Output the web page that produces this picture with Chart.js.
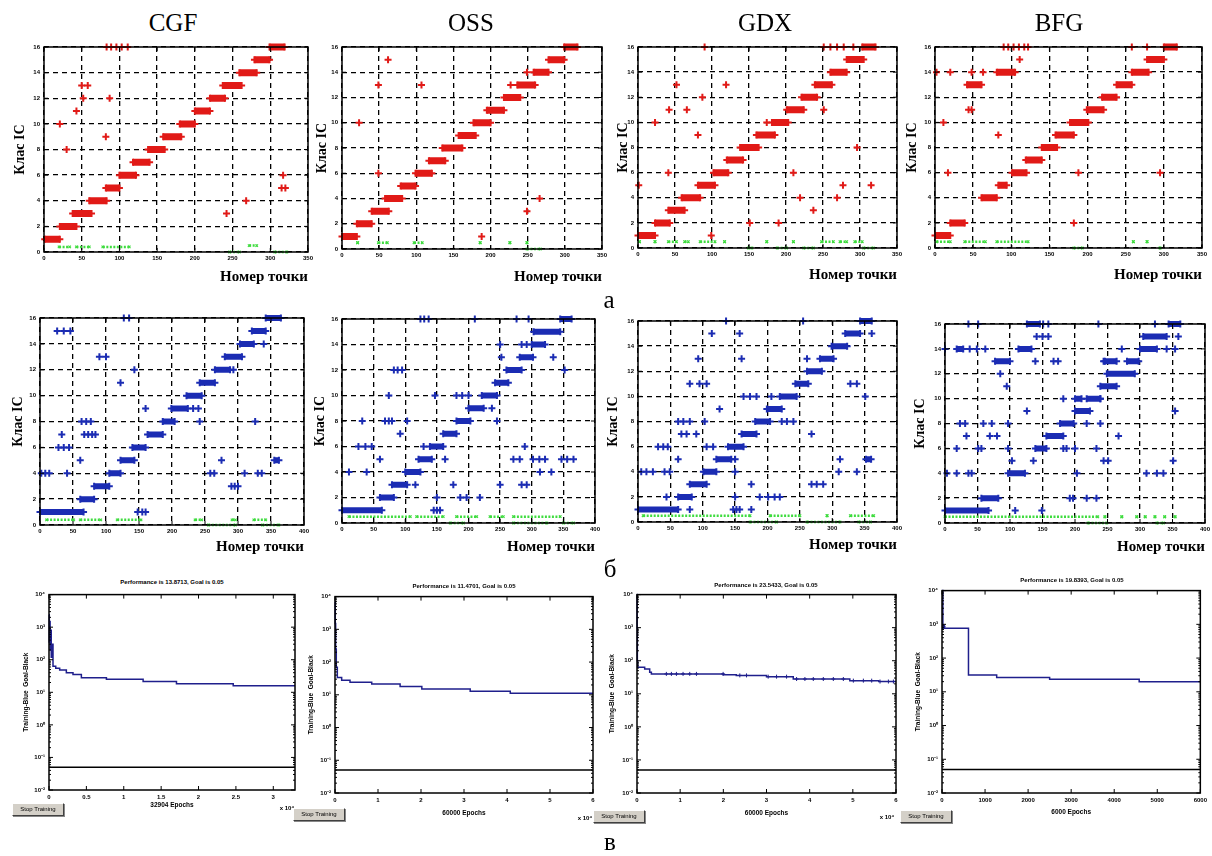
<!DOCTYPE html>
<html>
<head>
<meta charset="utf-8">
<script src="https://cdn.jsdelivr.net/npm/chart.js@4"></script>
<style>
body { margin: 0; background: #fff; width: 1212px; height: 856px; position: relative; overflow: hidden; }
canvas { position: absolute; }
.t { position: absolute; transform: translate(-50%, -50%); white-space: nowrap; color: #000; }
.hd { font: 25px 'Liberation Serif', serif; }
.pt { font: bold 6px 'Liberation Sans', sans-serif; }
.btn { position: absolute; width: 50px; height: 11px; background: #d4d0c8; border: 1px solid; border-color: #fff #404040 #404040 #fff;
       font: 6px 'Liberation Sans', sans-serif; line-height: 11px; text-align: center; color: #000; box-shadow: 1px 1px 0 #888; }
</style>
</head>
<body>
<script>
// ---- а) червоні: [клас, від, до], викиди [точка, клас], зелені [від, до, y]
const classTicks = [0, 2, 4, 6, 8, 10, 12, 14, 16];
const pointTicksA = [0, 50, 100, 150, 200, 250, 300, 350];
const pointTicksB = [0, 50, 100, 150, 200, 250, 300, 350, 400];

const aCgfRuns = [[1,1,21],[2,21,43],[3,38,63],[4,60,83],[5,82,100],[6,100,122],[7,118,140],[8,138,160],[9,158,182],[10,180,200],[11,200,220],[12,220,240],[13,237,262],[14,259,282],[15,279,299],[16,299,319]];
const aCgfOut = [[83,16],[89,16],[96,16],[103,16],[111,16],[50,13],[58,13],[52,12],[87,12],[43,11],[21,10],[82,9],[30,8],[317,6],[315,5],[320,5],[268,4],[242,3]];
const aCgfGreen = [[20,34,0.4],[43,60,0.4],[78,113,0.4],[246,259,0],[272,282,0.5],[306,322,0]];

const aOssRuns = [[1,0,20],[2,20,40],[3,40,63],[4,58,81],[5,79,99],[6,99,121],[7,117,139],[8,135,162],[9,157,180],[10,177,200],[11,195,218],[12,218,240],[13,236,260],[14,258,278],[15,278,299],[16,299,317]];
const aOssOut = [[62,15],[49,13],[107,13],[227,13],[249,14],[23,10],[49,6],[249,3],[266,4],[188,1]];
const aOssGreen = [[21,21,0.5],[49,61,0.5],[97,108,0.5],[186,186,0.5],[226,226,0.5],[249,249,0.5],[249,267,0]];

const aGdxRuns = [[1,0,23],[2,23,43],[3,41,63],[4,59,84],[5,81,104],[6,102,122],[7,120,142],[8,138,163],[9,160,185],[10,181,203],[11,201,224],[12,221,242],[13,239,262],[14,260,282],[15,282,305],[16,303,321]];
const aGdxOut = [[90,16],[251,16],[260,16],[269,16],[278,16],[291,16],[52,13],[119,13],[87,12],[42,11],[66,11],[251,11],[23,10],[174,10],[81,9],[296,8],[41,6],[210,6],[1,5],[277,5],[315,5],[219,4],[269,4],[237,3],[151,2],[190,2],[99,1]];
const aGdxGreen = [[2,2,0.5],[23,23,0.5],[41,52,0.5],[63,68,0.5],[84,104,0.5],[117,117,0.5],[174,174,0.5],[210,210,0.5],[248,264,0.5],[273,282,0.5],[293,303,0.5],[149,154,0],[188,201,0],[224,237,0],[305,318,0]];

const aBfgRuns = [[1,0,20],[2,20,39],[13,42,61],[4,61,81],[14,81,105],[5,83,94],[6,101,120],[7,119,140],[8,140,160],[9,158,182],[10,177,201],[11,199,221],[12,219,238],[13,238,258],[14,258,280],[15,278,300],[16,300,317]];
const aBfgOut = [[90,16],[96,16],[103,16],[110,16],[117,16],[122,16],[258,16],[278,16],[111,15],[2,14],[20,14],[48,14],[63,14],[44,11],[48,11],[11,10],[83,9],[17,6],[188,6],[295,6],[182,2]];
const aBfgGreen = [[2,20,0.5],[39,66,0.5],[81,122,0.5],[260,260,0.5],[278,278,0.5],[182,193,0],[295,295,0]];

// ---- б) сині
const bCgfRuns = [[1,0,66],[2,61,82],[3,82,105],[4,105,122],[5,122,143],[6,140,160],[7,163,186],[8,186,204],[9,199,224],[10,222,245],[11,242,265],[12,265,288],[13,280,306],[14,303,324],[15,321,342],[16,342,365],[5,355,362]];
const bCgfOut = [[148,1],[155,1],[160,1],[290,3],[295,3],[300,3],[2,4],[8,4],[14,4],[41,4],[258,4],[264,4],[310,4],[330,4],[336,4],[61,5],[275,5],[28,6],[36,6],[44,6],[33,7],[67,7],[73,7],[79,7],[84,7],[63,8],[70,8],[77,8],[242,8],[326,8],[160,9],[232,9],[240,9],[122,11],[143,12],[293,12],[90,13],[100,13],[339,14],[26,15],[36,15],[46,15],[127,16],[135,16]];
const bCgfGreen = [[10,51,0.4],[61,92,0.4],[117,153,0.4],[235,245,0.4],[291,296,0.4],[324,342,0.4],[255,296,0],[337,362,0]];

const bOssRuns = [[1,0,63],[2,60,82],[3,79,103],[4,100,124],[5,121,142],[6,139,160],[7,160,181],[8,181,203],[9,200,224],[10,221,245],[11,242,263],[12,260,284],[13,281,302],[14,300,321],[15,303,345],[16,345,363]];
const bOssOut = [[124,16],[130,16],[137,16],[210,16],[276,16],[295,16],[250,14],[284,14],[292,14],[252,13],[334,13],[82,12],[88,12],[95,12],[352,12],[74,10],[147,10],[181,10],[190,10],[200,10],[237,9],[32,8],[68,8],[74,8],[79,8],[103,8],[245,8],[92,7],[26,6],[37,6],[47,6],[129,6],[289,6],[60,5],[163,5],[271,5],[281,5],[302,5],[312,5],[321,5],[347,5],[356,5],[366,5],[11,4],[39,4],[313,4],[331,4],[116,3],[176,3],[250,3],[284,3],[292,3],[150,2],[187,2],[197,2],[218,2],[145,1],[150,1],[155,1]];
const bOssGreen = [[11,108,0.5],[118,160,0.5],[181,213,0.5],[234,255,0.5],[271,345,0.5],[171,192,0],[271,324,0],[350,366,0]];

const bGdxRuns = [[1,0,62],[2,62,83],[3,80,106],[4,101,121],[5,121,144],[6,139,163],[7,160,183],[8,181,204],[9,199,222],[10,219,245],[11,243,263],[12,261,284],[13,281,302],[14,299,323],[15,320,343],[16,343,361],[5,352,360]];
const bGdxOut = [[136,16],[255,16],[114,15],[157,15],[361,15],[93,13],[160,13],[261,13],[80,11],[95,11],[106,11],[328,11],[338,11],[163,10],[173,10],[183,10],[206,10],[351,10],[126,9],[62,8],[70,8],[80,8],[103,8],[222,8],[230,8],[240,8],[67,7],[75,7],[90,7],[268,7],[31,6],[39,6],[46,6],[106,6],[116,6],[62,5],[150,5],[312,5],[5,4],[13,4],[23,4],[41,4],[49,4],[150,4],[310,4],[338,4],[175,3],[268,3],[276,3],[286,3],[44,2],[150,2],[188,2],[201,2],[211,2],[219,2],[80,1],[147,1],[152,1],[157,1],[175,1]];
const bGdxGreen = [[8,173,0.5],[204,250,0.5],[292,292,0.5],[328,364,0.5],[173,214,0],[261,312,0],[341,359,0]];

const bBfgRuns = [[1,0,67],[2,56,82],[4,97,123],[6,139,156],[7,156,182],[8,177,198],[9,200,223],[10,200,210],[10,218,239],[11,239,264],[12,249,292],[13,77,100],[13,244,264],[13,280,298],[14,18,28],[14,113,133],[14,300,326],[15,305,341],[16,126,146],[16,344,362]];
const bBfgOut = [[36,16],[51,16],[151,16],[159,16],[236,16],[323,16],[141,15],[150,15],[159,15],[359,15],[0,14],[38,14],[49,14],[62,14],[272,14],[341,14],[354,14],[139,13],[167,13],[174,13],[246,13],[85,12],[95,11],[182,10],[239,10],[126,9],[354,9],[23,8],[31,8],[59,8],[72,8],[97,8],[218,8],[239,8],[33,7],[69,7],[80,7],[267,7],[18,6],[51,6],[56,6],[97,6],[182,6],[187,6],[200,6],[233,6],[103,5],[136,5],[244,5],[251,5],[351,5],[3,4],[18,4],[36,4],[41,4],[203,4],[310,4],[326,4],[336,4],[192,2],[197,2],[218,2],[233,2],[108,1],[149,1]];
const bBfgGreen = [[0,235,0.5],[246,246,0.5],[272,272,0.5],[295,295,0.5],[308,308,0.5],[323,323,0.5],[338,338,0.5],[354,354,0.5],[220,249,0],[326,336,0]];

// ---- в) навчання (значення діє до наступної епохи у списку)
const perfPowers = [-2, -1, 0, 1, 2, 3, 4];
const goal = 0.05;
const cgfEpochs = [0, 40, 90, 150, 220, 300, 400, 536, 900, 1430, 2320, 3210, 4330, 7680, 12590, 17050, 24640, 32904];
const cgfPerf = [2400, 350, 1500, 200, 800, 120, 300, 63, 55, 48, 40, 35.5, 28, 25, 21.3, 18.4, 15.8, 15.8];
const ossEpochs = [0, 60, 150, 300, 540, 1550, 3490, 8540, 15140, 20190, 31440, 40760, 60000];
const ossPerf = [7000, 1500, 250, 70, 34, 28, 24, 21.4, 17.8, 15.1, 12.9, 11.2, 11.2];
const gdxEpochs = [0, 30, 80, 150, 1780, 2940, 3330, 20000, 23000, 30000, 36200, 49300, 56000, 60000];
const gdxPerf = [10000, 1000, 100, 63, 56, 45, 40, 38, 36, 33, 28, 25, 23.5, 23.5];
const gdxMarks = [[6800,40],[7970,40],[9130,40],[10670,40],[12220,40],[13770,40],[19950,40],[23820,36],[25370,36],[30390,33],[32330,33],[34650,33],[36970,28],[38900,28],[40840,28],[43160,28],[45480,28],[47800,28],[50120,25],[52440,25],[54370,25],[56300,23.5],[58240,23.5],[59400,23.5]];
const bfgEpochs = [0, 20, 40, 615, 1270, 2500, 4580, 6000];
const bfgPerf = [10000, 890, 760, 31.6, 26.5, 23.4, 20, 20];
const bfgMarks = [[25, 850]];

const cgfXTicks = [0, 5000, 10000, 15000, 20000, 25000, 30000];
const cgfXLabels = ['0', '0.5', '1', '1.5', '2', '2.5', '3'];
const e4XTicks = [0, 10000, 20000, 30000, 40000, 50000, 60000];
const e4XLabels = ['0', '1', '2', '3', '4', '5', '6'];
const bfgXTicks = [0, 1000, 2000, 3000, 4000, 5000, 6000];
const bfgXLabels = ['0', '1000', '2000', '3000', '4000', '5000', '6000'];

// ---- розташування
const RED = '#e11a17', BLUE = '#1b2cb3', GREEN = '#3fdc3f', NAVY = '#1f1f8c';
const tickFont = { family: 'Liberation Sans', size: 6, weight: 'bold' };
const sup = { '-': '⁻', '0': '⁰', '1': '¹', '2': '²', '3': '³', '4': '⁴' };

Chart.register({
  id: 'frame',
  afterDraw(chart, args, opts) {
    const { ctx, chartArea: a, scales: { x, y } } = chart;
    ctx.save();
    ctx.strokeStyle = '#000';
    ctx.lineWidth = 1;
    ctx.beginPath();
    x.ticks.forEach(t => {
      const p = x.getPixelForValue(t.value);
      ctx.moveTo(p, a.bottom); ctx.lineTo(p, a.bottom - 4);
      ctx.moveTo(p, a.top); ctx.lineTo(p, a.top + 4);
    });
    y.ticks.forEach(t => {
      const p = y.getPixelForValue(t.value);
      ctx.moveTo(a.left, p); ctx.lineTo(a.left + 4, p);
      ctx.moveTo(a.right, p); ctx.lineTo(a.right - 4, p);
    });
    if (opts.minor) {
      for (let e = perfPowers[0]; e < perfPowers[perfPowers.length - 1]; e++) {
        for (let m = 2; m < 10; m++) {
          const p = y.getPixelForValue(m * Math.pow(10, e));
          ctx.moveTo(a.left, p); ctx.lineTo(a.left + 2, p);
          ctx.moveTo(a.right, p); ctx.lineTo(a.right - 2, p);
        }
      }
    }
    ctx.stroke();
    ctx.lineWidth = 1.5;
    ctx.strokeRect(a.left, a.top, a.right - a.left, a.bottom - a.top);
    ctx.restore();
  }
});

function place(box, L, T, R, B) {
  const cv = document.createElement('canvas');
  const w = box.r - box.l + L + R, h = box.b - box.t + T + B;
  cv.width = w; cv.height = h;
  cv.style.left = (box.l - L) + 'px';
  cv.style.top = (box.t - T) + 'px';
  cv.style.width = w + 'px';
  cv.style.height = h + 'px';
  document.body.appendChild(cv);
  return cv;
}

function text(cls, str, x, y) {
  const d = document.createElement('div');
  d.className = 't ' + cls;
  d.style.left = x + 'px';
  d.style.top = y + 'px';
  d.textContent = str;
  document.body.appendChild(d);
}

function classPanel(box, yTitleX, xTitleY, xMax, xTicks, runs, out, greens, color, lw) {
  const L = 40, T = 8, R = 10, B = 36, ySize = 14, xSize = 15;
  const cv = place(box, L, T, R, B);
  const runPts = [];
  runs.forEach(([c, a, b]) => runPts.push({ x: a, y: c }, { x: b, y: c }, { x: b, y: null }));
  const greenPts = [];
  greens.forEach(([a, b, y]) => greenPts.push({ x: a, y: y }, { x: b, y: y }, { x: b, y: null }));
  new Chart(cv, {
    type: 'scatter',
    data: {
      datasets: [
        { data: greenPts, showLine: true, borderColor: GREEN, borderWidth: 2.5, borderDash: [2, 1.5],
          pointStyle: 'crossRot', pointRadius: 1.8, pointBorderWidth: 1.2, pointBorderColor: GREEN, clip: false },
        { data: runPts, showLine: true, borderColor: color, borderWidth: lw,
          pointStyle: 'cross', pointRadius: 3.5, pointBorderWidth: 2, pointBorderColor: color, clip: false },
        { data: out.map(([x, y]) => ({ x, y })), pointStyle: 'cross', pointRadius: 3.5, pointBorderWidth: 2,
          pointBorderColor: color, clip: false }
      ]
    },
    options: {
      responsive: false, animation: false, devicePixelRatio: 1,
      layout: { padding: { left: 0, top: T, right: R, bottom: 0 } },
      scales: {
        x: {
          type: 'linear', min: 0, max: xMax,
          afterBuildTicks: s => { s.ticks = xTicks.map(v => ({ value: v })); },
          afterFit: s => { s.height = B; },
          grid: { color: '#000', lineWidth: 1.3, drawTicks: false },
          border: { display: false, dash: [5, 4] },
          ticks: { font: tickFont, color: '#000', padding: 3, maxRotation: 0, autoSkip: false },
          title: { display: true, text: 'Номер точки', align: 'end', color: '#000',
            font: { family: 'Liberation Serif', size: xSize, weight: 'bold', lineHeight: 1.2 },
            padding: { top: 0, bottom: box.b + B - xTitleY - xSize * 0.6 } }
        },
        y: {
          type: 'linear', min: 0, max: 16,
          afterBuildTicks: s => { s.ticks = classTicks.map(v => ({ value: v })); },
          afterFit: s => { s.width = L; },
          grid: { color: '#000', lineWidth: 1.3, drawTicks: false },
          border: { display: false, dash: [5, 4] },
          ticks: { font: tickFont, color: '#000', padding: 4, autoSkip: false },
          title: { display: true, text: 'Клас ІС', color: '#000',
            font: { family: 'Liberation Serif', size: ySize, weight: 'bold', lineHeight: 1.2 },
            padding: { top: L - (box.l - yTitleX) - ySize * 0.6, bottom: 0 } }
        }
      },
      plugins: { legend: { display: false }, tooltip: { enabled: false }, frame: { minor: false } }
    }
  });
}

function perfPanel(box, yTitleX, xTitleY, xMax, xTicks, xLabels, xTitle, epochs, perf, marks, markStyle) {
  const L = 40, T = 6, R = 8, B = 30, fs = 6.5;
  const cv = place(box, L, T, R, B);
  new Chart(cv, {
    type: 'scatter',
    data: {
      datasets: [
        { data: [{ x: 0, y: goal }, { x: xMax, y: goal }], showLine: true, borderColor: '#000', borderWidth: 1.5, pointRadius: 0 },
        { data: epochs.map((e, i) => ({ x: e, y: perf[i] })), showLine: true, stepped: 'before',
          borderColor: NAVY, borderWidth: 1.5, pointRadius: 0, clip: false },
        { data: marks.map(([x, y]) => ({ x, y })), pointStyle: markStyle, pointRadius: 2,
          pointBorderWidth: 1, pointBorderColor: NAVY, pointBackgroundColor: NAVY }
      ]
    },
    options: {
      responsive: false, animation: false, devicePixelRatio: 1,
      layout: { padding: { left: 0, top: T, right: R, bottom: 0 } },
      scales: {
        x: {
          type: 'linear', min: 0, max: xMax,
          afterBuildTicks: s => { s.ticks = xTicks.map(v => ({ value: v })); },
          afterFit: s => { s.height = B; },
          grid: { display: false, drawTicks: false },
          border: { display: false },
          ticks: { font: tickFont, color: '#000', padding: 4, maxRotation: 0, autoSkip: false,
            callback: (v, i) => xLabels[i] },
          title: { display: true, text: xTitle, color: '#000',
            font: { family: 'Liberation Sans', size: fs, weight: 'bold', lineHeight: 1.2 },
            padding: { top: 0, bottom: box.b + B - xTitleY - fs * 0.6 } }
        },
        y: {
          type: 'logarithmic', min: 0.01, max: 10000,
          afterBuildTicks: s => { s.ticks = perfPowers.map(e => ({ value: Math.pow(10, e) })); },
          afterFit: s => { s.width = L; },
          grid: { display: false, drawTicks: false },
          border: { display: false },
          ticks: { font: tickFont, color: '#000', padding: 4, autoSkip: false,
            callback: v => '10' + String(Math.round(Math.log10(v))).split('').map(c => sup[c]).join('') },
          title: { display: true, text: 'Training-Blue  Goal-Black', color: '#000',
            font: { family: 'Liberation Sans', size: fs, weight: 'bold', lineHeight: 1.2 },
            padding: { top: L - (box.l - yTitleX) - fs * 0.6, bottom: 0 } }
        }
      },
      plugins: { legend: { display: false }, tooltip: { enabled: false }, frame: { minor: true } }
    }
  });
}

// ряд а
classPanel({ l: 44, t: 47, r: 308, b: 252 }, 20, 277, 350, pointTicksA, aCgfRuns, aCgfOut, aCgfGreen, RED, 7);
classPanel({ l: 342, t: 47, r: 602, b: 249 }, 322, 277, 350, pointTicksA, aOssRuns, aOssOut, aOssGreen, RED, 7);
classPanel({ l: 638, t: 47, r: 897, b: 248 }, 623, 275, 350, pointTicksA, aGdxRuns, aGdxOut, aGdxGreen, RED, 7);
classPanel({ l: 935, t: 47, r: 1202, b: 248 }, 912, 275, 350, pointTicksA, aBfgRuns, aBfgOut, aBfgGreen, RED, 7);
// ряд б
classPanel({ l: 40, t: 318, r: 304, b: 525 }, 18, 547, 400, pointTicksB, bCgfRuns, bCgfOut, bCgfGreen, BLUE, 6);
classPanel({ l: 342, t: 319, r: 595, b: 523 }, 320, 547, 400, pointTicksB, bOssRuns, bOssOut, bOssGreen, BLUE, 6);
classPanel({ l: 638, t: 321, r: 897, b: 522 }, 613, 545, 400, pointTicksB, bGdxRuns, bGdxOut, bGdxGreen, BLUE, 6);
classPanel({ l: 945, t: 324, r: 1205, b: 523 }, 920, 547, 400, pointTicksB, bBfgRuns, bBfgOut, bBfgGreen, BLUE, 6);
// ряд в
perfPanel({ l: 49, t: 593, r: 295, b: 790 }, 26, 805, 32904, cgfXTicks, cgfXLabels, '32904 Epochs', cgfEpochs, cgfPerf, [], 'cross');
perfPanel({ l: 335, t: 595, r: 593, b: 793 }, 311, 813, 60000, e4XTicks, e4XLabels, '60000 Epochs', ossEpochs, ossPerf, [], 'cross');
perfPanel({ l: 637, t: 593, r: 896, b: 793 }, 612, 813, 60000, e4XTicks, e4XLabels, '60000 Epochs', gdxEpochs, gdxPerf, gdxMarks, 'cross');
perfPanel({ l: 942, t: 589, r: 1203, b: 793 }, 918, 812, 6000, bfgXTicks, bfgXLabels, '6000 Epochs', bfgEpochs, bfgPerf, bfgMarks, 'circle');

// підписи
text('hd', 'CGF', 173, 23);
text('hd', 'OSS', 471, 23);
text('hd', 'GDX', 765, 23);
text('hd', 'BFG', 1059, 23);
text('hd', 'а', 609, 300);
text('hd', 'б', 610, 569);
text('hd', 'в', 610, 842);
text('pt', 'Performance is 13.8713, Goal is 0.05', 172, 582);
text('pt', 'Performance is 11.4701, Goal is 0.05', 464, 586);
text('pt', 'Performance is 23.5433, Goal is 0.05', 766, 585);
text('pt', 'Performance is 19.8393, Goal is 0.05', 1072, 580);
text('pt', 'x 10⁴', 287, 808);
text('pt', 'x 10⁴', 585, 818);
text('pt', 'x 10⁴', 887, 817);

[[12, 803], [293, 808], [593, 810], [900, 810]].forEach(([x, y]) => {
  const b = document.createElement('div');
  b.className = 'btn';
  b.style.left = x + 'px';
  b.style.top = y + 'px';
  b.textContent = 'Stop Training';
  document.body.appendChild(b);
});
</script>
</body>
</html>
